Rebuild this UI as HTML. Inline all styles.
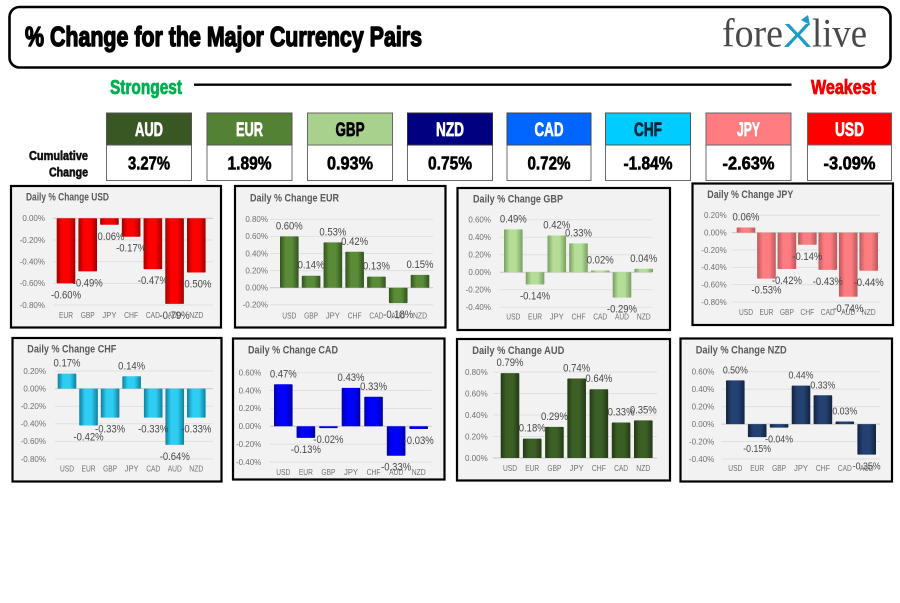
<!DOCTYPE html>
<html lang="en">
<head>
<meta charset="utf-8">
<title>% Change for the Major Currency Pairs</title>
<style>
html,body{margin:0;padding:0;background:#fff;width:900px;height:603px;overflow:hidden}
svg{display:block}
text{font-family:"Liberation Sans",sans-serif}
.heavy{font-weight:700;stroke-linejoin:round}
</style>
</head>
<body>
<svg id="root" xmlns="http://www.w3.org/2000/svg" width="900" height="603" viewBox="0 0 900 603">
  <rect x="0" y="0" width="900" height="603" fill="#fff"/>
  <rect x="9.5" y="7" width="881" height="60.5" rx="10" fill="#fff" stroke="#000" stroke-width="2.6"/>
  <text class="heavy" x="25" y="46" font-size="27.5" fill="#000" stroke="#000" stroke-width="1.4" textLength="397" lengthAdjust="spacingAndGlyphs">% Change for the Major Currency Pairs</text>

  <g>
    <text x="722" y="46.7" font-size="40" fill="#48494b" style="font-family:'Liberation Serif',serif" textLength="61" lengthAdjust="spacingAndGlyphs">fore</text>
    <text x="783" y="47" font-size="33" fill="#1d9bc9" textLength="29" lengthAdjust="spacingAndGlyphs">X</text>
    <polygon points="808,15 810,25 801,20" fill="#1d9bc9"/>
    <text x="812" y="46.7" font-size="40" fill="#48494b" style="font-family:'Liberation Serif',serif" textLength="55" lengthAdjust="spacingAndGlyphs">live</text>
  </g>

  <text class="heavy" x="110" y="94" font-size="20" fill="#00b050" stroke="#00b050" stroke-width="0.8" textLength="72" lengthAdjust="spacingAndGlyphs">Strongest</text>
  <line x1="194" y1="84.7" x2="791.5" y2="84.7" stroke="#000" stroke-width="2.4"/>
  <text class="heavy" x="811" y="94" font-size="20" fill="#f00000" stroke="#f00000" stroke-width="0.8" textLength="65" lengthAdjust="spacingAndGlyphs">Weakest</text>

  <text class="heavy" x="29" y="160" font-size="12.5" fill="#111" stroke="#111" stroke-width="0.6" textLength="59" lengthAdjust="spacingAndGlyphs">Cumulative</text>
  <text class="heavy" x="49" y="176.5" font-size="12.5" fill="#111" stroke="#111" stroke-width="0.6" textLength="39" lengthAdjust="spacingAndGlyphs">Change</text>

  <g>
    <rect x="106.5" y="113" width="85" height="67.5" fill="#fff" stroke="#6b6b6b" stroke-width="1"/>
    <rect x="106.5" y="113" width="85" height="32" fill="#385723" stroke="#555" stroke-width="1"/>
    <text class="heavy" x="149" y="136" text-anchor="middle" font-size="19.5" fill="#fff" stroke="#fff" stroke-width="0.7" textLength="28" lengthAdjust="spacingAndGlyphs">AUD</text>
    <text class="heavy" x="149" y="169.5" text-anchor="middle" font-size="18" fill="#000" stroke="#000" stroke-width="0.6" textLength="42" lengthAdjust="spacingAndGlyphs">3.27%</text>
  </g>
  <g>
    <rect x="207" y="113" width="85" height="67.5" fill="#fff" stroke="#6b6b6b" stroke-width="1"/>
    <rect x="207" y="113" width="85" height="32" fill="#548235" stroke="#555" stroke-width="1"/>
    <text class="heavy" x="249.5" y="136" text-anchor="middle" font-size="19.5" fill="#fff" stroke="#fff" stroke-width="0.7" textLength="27" lengthAdjust="spacingAndGlyphs">EUR</text>
    <text class="heavy" x="249.5" y="169.5" text-anchor="middle" font-size="18" fill="#000" stroke="#000" stroke-width="0.6" textLength="44" lengthAdjust="spacingAndGlyphs">1.89%</text>
  </g>
  <g>
    <rect x="307.5" y="113" width="85" height="67.5" fill="#fff" stroke="#6b6b6b" stroke-width="1"/>
    <rect x="307.5" y="113" width="85" height="32" fill="#a9d18e" stroke="#666" stroke-width="1"/>
    <text class="heavy" x="350" y="136" text-anchor="middle" font-size="19.5" fill="#000" stroke="#000" stroke-width="0.7" textLength="29" lengthAdjust="spacingAndGlyphs">GBP</text>
    <text class="heavy" x="350" y="169.5" text-anchor="middle" font-size="18" fill="#000" stroke="#000" stroke-width="0.6" textLength="46" lengthAdjust="spacingAndGlyphs">0.93%</text>
  </g>
  <g>
    <rect x="407.5" y="113" width="85" height="67.5" fill="#fff" stroke="#6b6b6b" stroke-width="1"/>
    <rect x="407.5" y="113" width="85" height="32" fill="#000080" stroke="#333" stroke-width="1"/>
    <text class="heavy" x="450" y="136" text-anchor="middle" font-size="19.5" fill="#fff" stroke="#fff" stroke-width="0.7" textLength="28" lengthAdjust="spacingAndGlyphs">NZD</text>
    <text class="heavy" x="450" y="169.5" text-anchor="middle" font-size="18" fill="#000" stroke="#000" stroke-width="0.6" textLength="44" lengthAdjust="spacingAndGlyphs">0.75%</text>
  </g>
  <g>
    <rect x="507" y="113" width="84" height="67.5" fill="#fff" stroke="#6b6b6b" stroke-width="1"/>
    <rect x="507" y="113" width="84" height="32" fill="#0066ff" stroke="#444" stroke-width="1"/>
    <text class="heavy" x="549" y="136" text-anchor="middle" font-size="19.5" fill="#fff" stroke="#fff" stroke-width="0.7" textLength="29" lengthAdjust="spacingAndGlyphs">CAD</text>
    <text class="heavy" x="549" y="169.5" text-anchor="middle" font-size="18" fill="#000" stroke="#000" stroke-width="0.6" textLength="43" lengthAdjust="spacingAndGlyphs">0.72%</text>
  </g>
  <g>
    <rect x="605.5" y="113" width="85" height="67.5" fill="#fff" stroke="#6b6b6b" stroke-width="1"/>
    <rect x="605.5" y="113" width="85" height="32" fill="#00ccff" stroke="#555" stroke-width="1"/>
    <text class="heavy" x="648" y="136" text-anchor="middle" font-size="19.5" fill="#04263a" stroke="#04263a" stroke-width="0.7" textLength="28" lengthAdjust="spacingAndGlyphs">CHF</text>
    <text class="heavy" x="648" y="169.5" text-anchor="middle" font-size="18" fill="#000" stroke="#000" stroke-width="0.6" textLength="49" lengthAdjust="spacingAndGlyphs">-1.84%</text>
  </g>
  <g>
    <rect x="706" y="113" width="85" height="67.5" fill="#fff" stroke="#6b6b6b" stroke-width="1"/>
    <rect x="706" y="113" width="85" height="32" fill="#ff7c80" stroke="#666" stroke-width="1"/>
    <text class="heavy" x="748.5" y="136" text-anchor="middle" font-size="19.5" fill="#fff" stroke="#fff" stroke-width="0.7" textLength="23" lengthAdjust="spacingAndGlyphs">JPY</text>
    <text class="heavy" x="748.5" y="169.5" text-anchor="middle" font-size="18" fill="#000" stroke="#000" stroke-width="0.6" textLength="52" lengthAdjust="spacingAndGlyphs">-2.63%</text>
  </g>
  <g>
    <rect x="807.5" y="113" width="84" height="67.5" fill="#fff" stroke="#6b6b6b" stroke-width="1"/>
    <rect x="807.5" y="113" width="84" height="32" fill="#ff0000" stroke="#666" stroke-width="1"/>
    <text class="heavy" x="849.5" y="136" text-anchor="middle" font-size="19.5" fill="#fff" stroke="#fff" stroke-width="0.7" textLength="29" lengthAdjust="spacingAndGlyphs">USD</text>
    <text class="heavy" x="849.5" y="169.5" text-anchor="middle" font-size="18" fill="#000" stroke="#000" stroke-width="0.6" textLength="52" lengthAdjust="spacingAndGlyphs">-3.09%</text>
  </g>
  <defs id="bar-gradients"></defs>
</svg>
<script>
var usdCategories = ['EUR','GBP','JPY','CHF','CAD','AUD','NZD'];
var usdValues = [-0.60,-0.49,-0.06,-0.17,-0.47,-0.79,-0.50];
var usdTicks = [0,-0.2,-0.4,-0.6,-0.8];

var eurCategories = ['USD','GBP','JPY','CHF','CAD','AUD','NZD'];
var eurValues = [0.60,0.14,0.53,0.42,0.13,-0.18,0.15];
var eurTicks = [0.8,0.6,0.4,0.2,0,-0.2];

var gbpCategories = ['USD','EUR','JPY','CHF','CAD','AUD','NZD'];
var gbpValues = [0.49,-0.14,0.42,0.33,0.02,-0.29,0.04];
var gbpTicks = [0.6,0.4,0.2,0,-0.2,-0.4];

var jpyCategories = ['USD','EUR','GBP','CHF','CAD','AUD','NZD'];
var jpyValues = [0.06,-0.53,-0.42,-0.14,-0.43,-0.74,-0.44];
var jpyTicks = [0.2,0,-0.2,-0.4,-0.6,-0.8];

var chfCategories = ['USD','EUR','GBP','JPY','CAD','AUD','NZD'];
var chfValues = [0.17,-0.42,-0.33,0.14,-0.33,-0.64,-0.33];
var chfTicks = [0.2,0,-0.2,-0.4,-0.6,-0.8];

var cadCategories = ['USD','EUR','GBP','JPY','CHF','AUD','NZD'];
var cadValues = [0.47,-0.13,-0.02,0.43,0.33,-0.33,-0.03];
var cadTicks = [0.6,0.4,0.2,0,-0.2,-0.4];

var audCategories = ['USD','EUR','GBP','JPY','CHF','CAD','NZD'];
var audValues = [0.79,0.18,0.29,0.74,0.64,0.33,0.35];
var audTicks = [0.8,0.6,0.4,0.2,0];

var nzdCategories = ['USD','EUR','GBP','JPY','CHF','CAD','AUD'];
var nzdValues = [0.50,-0.15,-0.04,0.44,0.33,0.03,-0.35];
var nzdTicks = [0.6,0.4,0.2,0,-0.2,-0.4];

var SVGNS = 'http://www.w3.org/2000/svg';
var root = document.getElementById('root');
var defs = document.getElementById('bar-gradients');

function svgEl(tag, attrs, parent) {
  var el = document.createElementNS(SVGNS, tag);
  for (var k in attrs) { el.setAttribute(k, attrs[k]); }
  parent.appendChild(el);
  return el;
}

function formatPct(v) {
  return (Math.abs(v) < 0.00001 ? 0 : v).toFixed(2) + '%';
}

function makeGradient(id, edge, mid) {
  var g = svgEl('linearGradient', {id: id, x1: 0, y1: 0, x2: 1, y2: 0}, defs);
  svgEl('stop', {offset: '0', 'stop-color': edge}, g);
  svgEl('stop', {offset: '0.3', 'stop-color': mid}, g);
  svgEl('stop', {offset: '0.65', 'stop-color': mid}, g);
  svgEl('stop', {offset: '1', 'stop-color': edge}, g);
}

function drawChart(c) {
  var key = c.key;
  var n = c.categories.length;
  var domainMax = Math.max.apply(null, c.ticks);
  var domainMin = Math.min.apply(null, c.ticks);
  function yScale(v) {
    return c.plotTop + (domainMax - v) / (domainMax - domainMin) * (c.plotBottom - c.plotTop);
  }
  function xScale(i) {
    return c.firstX + i * (c.lastX - c.firstX) / (n - 1);
  }
  var gradId = 'grad-' + key;
  makeGradient(gradId, c.edge, c.mid);

  var g = svgEl('g', {}, root);
  
  

  var frame = svgEl('rect', {x: c.box[0], y: c.box[1], width: c.box[2] - c.box[0], height: c.box[3] - c.box[1], fill: '#f2f2f2', stroke: '#000', 'stroke-width': 2.2}, g);
  
  

  var title = svgEl('text', {x: c.titleX, y: c.titleY, 'font-size': 11, 'font-weight': 700, fill: '#595959', textLength: c.titleW, lengthAdjust: 'spacingAndGlyphs'}, g);
  title.textContent = 'Daily % Change ' + key.toUpperCase();
  
  

  c.ticks.forEach(function (t) {
    var grid = svgEl('line', {x1: c.gridL, x2: c.gridR, y1: yScale(t), y2: yScale(t), stroke: Math.abs(t) < 0.00001 ? '#c8c8c8' : '#e0e0e0', 'stroke-width': 1}, g);
    
    
    var tick = svgEl('text', {x: c.tickX, y: yScale(t) + 2.8, 'text-anchor': 'end', 'font-size': 8, fill: '#707070'}, g);
    tick.textContent = formatPct(t);
    
    
  });

  c.values.forEach(function (v, i) {
    var y0 = yScale(0), y1 = yScale(v);
    var bar = svgEl('rect', {x: xScale(i) - 9.3, y: Math.min(y0, y1), width: 18.6, height: Math.max(Math.abs(y1 - y0), 1), rx: 0.8, fill: 'url(#' + gradId + ')'}, g);
    
    
  });

  c.categories.forEach(function (name, i) {
    var cat = svgEl('text', {x: xScale(i), y: c.catY + 2.8, 'text-anchor': 'middle', 'font-size': 8, fill: '#707070', textLength: 14, lengthAdjust: 'spacingAndGlyphs'}, g);
    cat.textContent = name;
    
    
  });

  c.values.forEach(function (v, i) {
    var ly = v >= 0 ? yScale(v) - 7 : yScale(v) + 15;
    var label = svgEl('text', {x: xScale(i), y: ly, 'text-anchor': 'middle', 'font-size': c.labelSize, fill: '#484848'}, g);
    label.textContent = formatPct(v);
    label.setAttribute('textLength', (label.getComputedTextLength() * 0.88).toFixed(2));
    label.setAttribute('lengthAdjust', 'spacingAndGlyphs');
    
    
  });
}

drawChart({key: 'usd', categories: usdCategories, values: usdValues, ticks: usdTicks,
  box: [11, 186, 221, 327.5], plotTop: 218.3, plotBottom: 305, firstX: 66, lastX: 196.3,
  gridL: 53, gridR: 213, tickX: 45, catY: 315, titleX: 26, titleY: 200.5, titleW: 83, labelSize: 10.8,
  edge: '#a00000', mid: '#ff0000'});
drawChart({key: 'eur', categories: eurCategories, values: eurValues, ticks: eurTicks,
  box: [235, 186, 445.5, 327.5], plotTop: 219.3, plotBottom: 304.8, firstX: 289.3, lastX: 420,
  gridL: 270, gridR: 433, tickX: 268, catY: 315.7, titleX: 250, titleY: 201.5, titleW: 89, labelSize: 10.8,
  edge: '#33521f', mid: '#5a8c38'});
drawChart({key: 'gbp', categories: gbpCategories, values: gbpValues, ticks: gbpTicks,
  box: [457.5, 188, 670, 330], plotTop: 219.7, plotBottom: 307.3, firstX: 513.3, lastX: 643.7,
  gridL: 500, gridR: 652, tickX: 491, catY: 316.7, titleX: 473, titleY: 202.5, titleW: 90, labelSize: 10.8,
  edge: '#7a9e62', mid: '#b4de98'});
drawChart({key: 'jpy', categories: jpyCategories, values: jpyValues, ticks: jpyTicks,
  box: [692.5, 183.5, 893, 325], plotTop: 215.3, plotBottom: 302, firstX: 746, lastX: 868.7,
  gridL: 731.7, gridR: 880, tickX: 726.7, catY: 312, titleX: 707.3, titleY: 198, titleW: 86, labelSize: 10.8,
  edge: '#b9595c', mid: '#ff7c80'});
drawChart({key: 'chf', categories: chfCategories, values: chfValues, ticks: chfTicks,
  box: [12.5, 338, 221.5, 481.5], plotTop: 371, plotBottom: 459, firstX: 67, lastX: 196.3,
  gridL: 55, gridR: 213, tickX: 46, catY: 468.7, titleX: 27.3, titleY: 352.5, titleW: 89, labelSize: 10.8,
  edge: '#0f7f9e', mid: '#2fcdf2'});
drawChart({key: 'cad', categories: cadCategories, values: cadValues, ticks: cadTicks,
  box: [233, 338.5, 444.5, 479.5], plotTop: 372.7, plotBottom: 462, firstX: 283.3, lastX: 418.7,
  gridL: 270, gridR: 431.7, tickX: 261.3, catY: 472, titleX: 248, titleY: 353.5, titleW: 90, labelSize: 10.8,
  edge: '#0000a8', mid: '#0000ff'});
drawChart({key: 'aud', categories: audCategories, values: audValues, ticks: audTicks,
  box: [457, 339, 670, 480.5], plotTop: 372, plotBottom: 458, firstX: 510, lastX: 643.3,
  gridL: 493, gridR: 657, tickX: 487.7, catY: 468.3, titleX: 472.3, titleY: 354, titleW: 92, labelSize: 10.8,
  edge: '#233a16', mid: '#3c5f26'});
drawChart({key: 'nzd', categories: nzdCategories, values: nzdValues, ticks: nzdTicks,
  box: [680.5, 338.5, 892, 481.5], plotTop: 371.7, plotBottom: 459, firstX: 735.3, lastX: 866.7,
  gridL: 721.7, gridR: 880, tickX: 714.3, catY: 468.3, titleX: 695.7, titleY: 353.5, titleW: 91, labelSize: 10,
  edge: '#12233f', mid: '#234272'});
</script>
</body>
</html>
